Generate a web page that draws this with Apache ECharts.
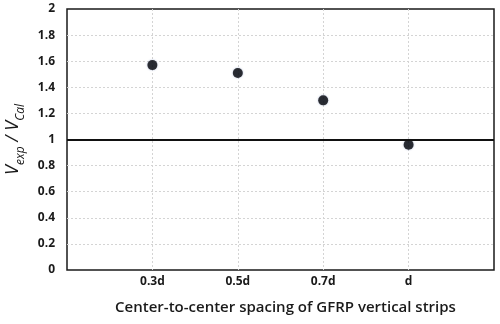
<!DOCTYPE html>
<html><head><meta charset="utf-8">
<script src="https://cdn.jsdelivr.net/npm/echarts@6/dist/echarts.min.js"></script>
<style>html,body{margin:0;padding:0;background:#fff}#c{width:500px;height:324px}</style>
</head><body><div id="c"></div>
<script>
const categories = ['', '0.3d', '0.5d', '0.7d', 'd', ''];
const pointCategories = ['0.3d', '0.5d', '0.7d', 'd'];
const ratioValues = [1.57, 1.51, 1.30, 0.96];
const yTicks = [0, 0.2, 0.4, 0.6, 0.8, 1, 1.2, 1.4, 1.6, 1.8, 2];
const referenceLine = 1;

const chart = echarts.init(document.getElementById('c'), null, {renderer: 'canvas'});
const font = '"Open Sans", "Liberation Sans", sans-serif';
chart.setOption({
  animation: false,
  grid: {left: 67, right: 6, top: 9, bottom: 54, outerBoundsMode: 'none', containLabel: false,
    show: true, borderColor: '#1a1a1a', borderWidth: 1.5, backgroundColor: 'transparent'},
  xAxis: {
    type: 'category', data: categories, boundaryGap: false,
    axisLine: {show: false}, axisTick: {show: false},
    axisLabel: {fontFamily: font, fontWeight: 'bold', fontSize: 12, color: '#1a1a1a', margin: 6, interval: 0},
    splitLine: {show: true, showMinLine: false, showMaxLine: false, lineStyle: {color: '#d4d4d4', type: [2, 2], width: 1}},
    name: 'Center-to-center spacing of GFRP vertical strips',
    nameLocation: 'middle', nameGap: 30,
    nameTextStyle: {fontFamily: font, fontSize: 15, fontWeight: 600, color: '#1a1a1a', padding: [0, 0, 0, 10]}
  },
  yAxis: {
    type: 'value', min: 0, max: 2, interval: 0.2,
    axisLine: {show: false}, axisTick: {show: false},
    axisLabel: {fontFamily: font, fontWeight: 'bold', fontSize: 12, color: '#1a1a1a', margin: 12,
      formatter: v => { const t = yTicks.find(x => Math.abs(x - v) < 1e-9); return t === undefined ? '' : String(t); }},
    splitLine: {show: true, showMinLine: false, showMaxLine: false, lineStyle: {color: '#d4d4d4', type: [2, 2], width: 1}},
    name: '{v|V}{s|exp}{v| / V}{s|Cal}',
    nameLocation: 'middle', nameGap: 38, nameRotate: 90,
    nameTextStyle: {
      rich: {
        v: {fontFamily: font, fontStyle: 'italic', fontSize: 18, color: '#1a1a1a', verticalAlign: 'bottom', lineHeight: 22},
        s: {fontFamily: font, fontStyle: 'italic', fontSize: 12, color: '#1a1a1a', verticalAlign: 'bottom', lineHeight: 16, padding: [0, 0, -5, 0]}
      }
    }
  },
  series: [{
    type: 'scatter',
    data: pointCategories.map((c, i) => [c, ratioValues[i]]),
    symbolSize: 10,
    itemStyle: {color: '#050508', shadowColor: 'rgba(60,90,160,0.5)', shadowBlur: 2},
    markLine: {
      silent: true, symbol: 'none', label: {show: false},
      lineStyle: {color: '#111', width: 2, type: 'solid'},
      data: [{yAxis: referenceLine}]
    }
  }]
});
</script></body></html>
